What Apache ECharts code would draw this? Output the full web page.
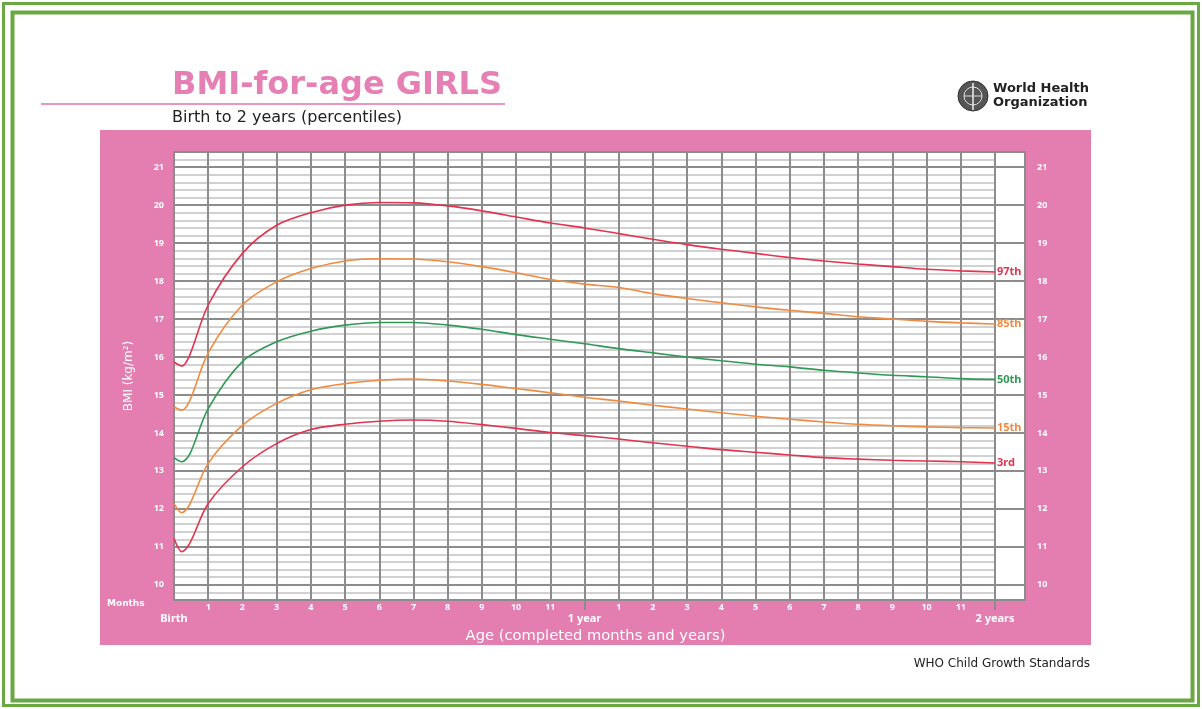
<!DOCTYPE html>
<html>
<head>
<meta charset="UTF-8">
<title>BMI-for-age GIRLS</title>
<script src="https://cdn.jsdelivr.net/npm/echarts@6/dist/echarts.min.js"></script>
<style>
  html, body { margin: 0; padding: 0; background: #fff; }
  #main { width: 1202px; height: 709px; }
</style>
</head>
<body>
<div id="main"></div>
<script type="text/javascript">
    // age in months (first points are weeks 0, 1, 2)
    var ages = [0, 0.23, 0.46, 1, 2, 3, 4, 5, 6, 7, 8, 9, 10, 11, 12,
        13, 14, 15, 16, 17, 18, 19, 20, 21, 22, 23, 24];

    var p97 = [15.87, 15.76, 16.05, 17.37, 18.73, 19.47, 19.8, 20.0, 20.07, 20.06, 19.98, 19.85, 19.69, 19.53, 19.4,
        19.25, 19.1, 18.96, 18.84, 18.73, 18.62, 18.53, 18.45, 18.38, 18.31, 18.27, 18.24];
    var p85 = [14.69, 14.6, 14.85, 16.11, 17.37, 17.98, 18.33, 18.53, 18.59, 18.58, 18.51, 18.38, 18.22, 18.04, 17.92,
        17.83, 17.67, 17.54, 17.43, 17.32, 17.23, 17.15, 17.06, 17.0, 16.94, 16.9, 16.87];
    var p50 = [13.35, 13.24, 13.44, 14.64, 15.88, 16.4, 16.68, 16.84, 16.91, 16.91, 16.84, 16.73, 16.59, 16.47, 16.35,
        16.22, 16.11, 16.0, 15.9, 15.81, 15.74, 15.65, 15.58, 15.52, 15.48, 15.43, 15.41];
    var p15 = [12.14, 11.9, 12.12, 13.2, 14.2, 14.78, 15.14, 15.3, 15.39, 15.42, 15.37, 15.28, 15.17, 15.06, 14.94,
        14.84, 14.73, 14.63, 14.53, 14.44, 14.36, 14.29, 14.23, 14.19, 14.16, 14.14, 14.13];
    var p3 = [11.22, 10.87, 11.09, 12.14, 13.11, 13.72, 14.09, 14.23, 14.31, 14.34, 14.31, 14.22, 14.12, 14.01, 13.93,
        13.84, 13.74, 13.65, 13.56, 13.49, 13.42, 13.35, 13.31, 13.28, 13.26, 13.24, 13.21];

    var monthTicks = [1, 2, 3, 4, 5, 6, 7, 8, 9, 10, 11, 13, 14, 15, 16, 17, 18, 19, 20, 21, 22, 23];
    var yearTicks = [0, 12, 24];
    var yearNames = ['Birth', '1 year', '2 years'];

    var pink = '#e47db0';
    var minorGrey = '#c2c2c2';
    var majorGrey = '#8c8c8c';
    var red = '#e3334f';
    var orange = '#f28a3e';
    var green = '#2f9a55';
    var font = '"DejaVu Sans"';

    var myChart = echarts.init(document.getElementById('main'));

    function mk(name, values, color) {
        var data = [];
        for (var i = 0; i < ages.length; i++) {
            data.push([ages[i], values[i]]);
        }
        return {
            name: name,
            type: 'line',
            xAxisIndex: 0,
            yAxisIndex: 0,
            data: data,
            symbol: 'none',
            smooth: 0.3,
            lineStyle: { color: color, width: 1.6 },
            endLabel: {
                show: true,
                formatter: name,
                distance: 2,
                color: color,
                fontSize: 11,
                fontWeight: 'bold',
                fontFamily: 'Noto Sans'
            }
        };
    }

    function intOnly(v) {
        return Math.abs(v - Math.round(v)) < 1e-6 ? Math.round(v) : '';
    }

    var tickLabel = { color: '#fff', fontSize: 9, fontWeight: 'bold', fontFamily: 'Noto Sans' };

    option = {
        animation: false,
        backgroundColor: '#fff',
        title: [{
            text: 'BMI-for-age GIRLS',
            left: 167,
            top: 65,
            textStyle: { color: '#e67fb3', fontSize: 32, fontWeight: 'bold', fontFamily: font }
        }, {
            text: 'Birth to 2 years (percentiles)',
            left: 167,
            top: 105,
            textStyle: { color: '#222', fontSize: 16, fontWeight: 'normal', fontFamily: font }
        }, {
            text: 'WHO Child Growth Standards',
            right: 107,
            top: 653,
            textStyle: { color: '#222', fontSize: 12, fontWeight: 'normal', fontFamily: font }
        }],
        graphic: [
            { type: 'rect', z: -10, shape: { x: 3.5, y: 3.5, width: 1195, height: 702 }, style: { fill: 'none', stroke: '#6aa843', lineWidth: 3 } },
            { type: 'rect', z: -10, shape: { x: 12.5, y: 12.5, width: 1180, height: 688 }, style: { fill: 'none', stroke: '#6aa843', lineWidth: 4 } },
            { type: 'line', z: -10, shape: { x1: 41, y1: 104, x2: 505, y2: 104 }, style: { stroke: '#ea94c2', lineWidth: 2 } },
            { type: 'rect', z: -10, shape: { x: 100, y: 130, width: 991, height: 515 }, style: { fill: pink } },
            { type: 'text', left: 107, top: 599, style: { text: 'Months', fill: '#fff', font: 'bold 9px ' + font } },
            // WHO emblem (rough)
            { type: 'circle', shape: { cx: 973, cy: 96, r: 15 }, style: { fill: '#555', stroke: '#333', lineWidth: 1 } },
            { type: 'circle', shape: { cx: 973, cy: 96, r: 9 }, style: { fill: 'none', stroke: '#ddd', lineWidth: 1 } },
            { type: 'line', shape: { x1: 973, y1: 83, x2: 973, y2: 110 }, style: { stroke: '#eee', lineWidth: 1.5 } },
            { type: 'line', shape: { x1: 964, y1: 96, x2: 982, y2: 96 }, style: { stroke: '#ddd', lineWidth: 1 } },
            { type: 'text', left: 993, top: 82, style: { text: 'World Health\nOrganization', fill: '#222', font: 'bold 13px ' + font, lineHeight: 14 } }
        ],
        grid: [{
            left: 174, top: 152, width: 821, height: 448
        }, {
            left: 174, top: 152, width: 851, height: 448,
            show: true, backgroundColor: '#fff', borderColor: majorGrey, borderWidth: 2
        }],
        xAxis: [{
            type: 'value',
            gridIndex: 0,
            min: 0,
            max: 24,
            interval: 1,
            position: 'bottom',
            axisLine: { show: false },
            axisTick: { show: false },
            axisLabel: Object.assign({
                customValues: monthTicks,
                margin: 3,
                formatter: function(v) { return v > 12 ? v - 12 : v; }
            }, tickLabel),
            splitLine: { show: true, lineStyle: { color: majorGrey, width: 2 } }
        }, {
            type: 'value',
            gridIndex: 0,
            min: 0,
            max: 24,
            position: 'bottom',
            axisLine: { show: false },
            axisTick: { show: true, customValues: [12, 24], length: 10, lineStyle: { color: majorGrey, width: 2 } },
            axisLabel: {
                customValues: yearTicks,
                margin: 13,
                color: '#fff',
                fontSize: 11,
                fontWeight: 'bold',
                fontFamily: 'Noto Sans',
                formatter: function(v) { return yearNames[yearTicks.indexOf(v)]; }
            },
            splitLine: { show: false },
            name: 'Age (completed months and years)',
            nameLocation: 'middle',
            nameGap: 27,
            nameTextStyle: { color: '#fff', fontSize: 14.7, fontFamily: font, padding: [0, 0, 0, 22] }
        }, {
            type: 'value',
            gridIndex: 1,
            min: 0,
            max: 24.88,
            show: false
        }],
        yAxis: [{
            type: 'value',
            gridIndex: 0,
            position: 'left',
            min: 9.6,
            max: 21.4,
            interval: 0.2,
            axisLine: { show: false },
            axisTick: { show: false },
            axisLabel: Object.assign({ margin: 10, formatter: intOnly }, tickLabel),
            splitLine: {
                show: true,
                showMinLine: false,
                showMaxLine: false,
                lineStyle: { color: [minorGrey, 'transparent', minorGrey, minorGrey, minorGrey], width: 1.5 }
            },
            name: 'BMI (kg/m²)',
            nameLocation: 'middle',
            nameGap: 39,
            nameRotate: 90,
            nameTextStyle: { color: '#fff', fontSize: 12, fontFamily: font }
        }, {
            type: 'value',
            gridIndex: 1,
            position: 'right',
            min: 9.6,
            max: 21.4,
            interval: 0.2,
            axisLine: { show: false },
            axisTick: { show: false },
            axisLabel: Object.assign({ margin: 12, formatter: intOnly }, tickLabel),
            splitLine: {
                show: true,
                lineStyle: { color: ['transparent', 'transparent', majorGrey, 'transparent', 'transparent'], width: 2 }
            }
        }],
        series: [
            mk('97th', p97, red),
            mk('85th', p85, orange),
            mk('50th', p50, green),
            mk('15th', p15, orange),
            mk('3rd', p3, red)
        ]
    };

    myChart.setOption(option);
</script>
</body>
</html>
